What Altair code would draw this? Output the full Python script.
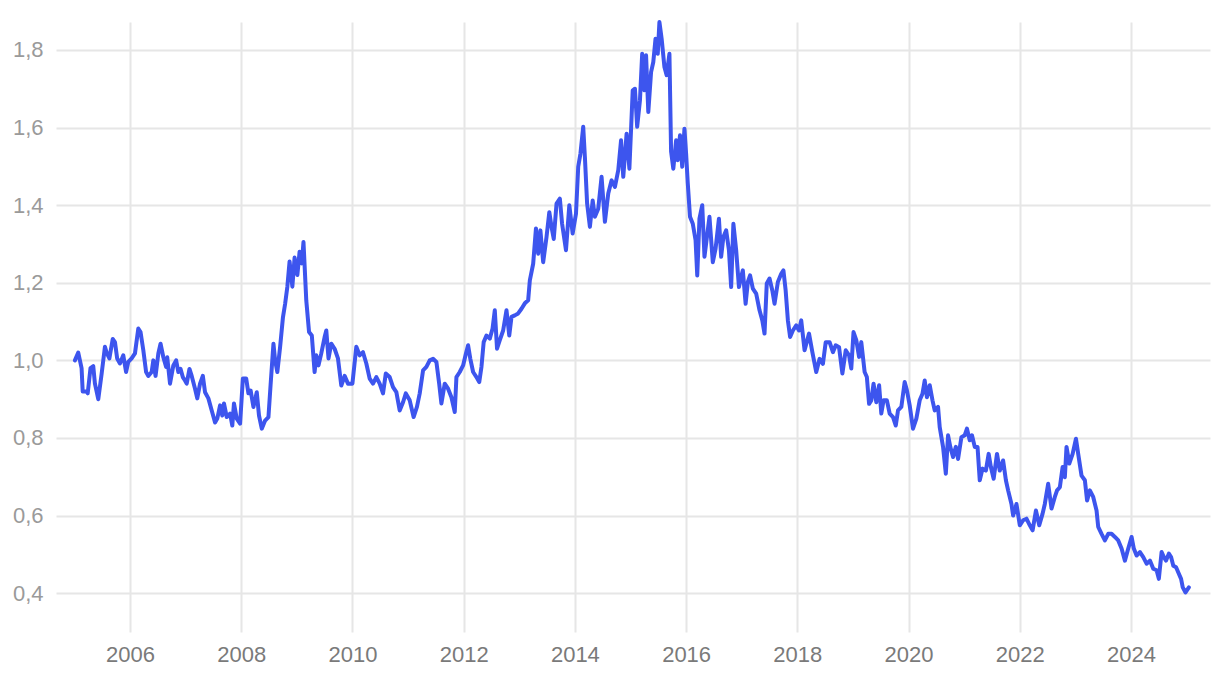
import altair as alt
import pandas as pd

years = [
    2005.01, 2005.07, 2005.13, 2005.15, 2005.22, 2005.24, 2005.29, 2005.34, 2005.37, 2005.43,
    2005.49, 2005.52, 2005.55, 2005.58, 2005.63, 2005.69, 2005.73, 2005.77, 2005.82, 2005.88,
    2005.93, 2005.97, 2006.03, 2006.09, 2006.15, 2006.19, 2006.24, 2006.29, 2006.33, 2006.39,
    2006.42, 2006.46, 2006.51, 2006.55, 2006.60, 2006.65, 2006.67, 2006.72, 2006.78, 2006.83,
    2006.87, 2006.91, 2006.95, 2006.99, 2007.02, 2007.07, 2007.11, 2007.17, 2007.21, 2007.26,
    2007.31, 2007.35, 2007.41, 2007.47, 2007.53, 2007.57, 2007.62, 2007.66, 2007.69, 2007.74,
    2007.80, 2007.84, 2007.87, 2007.92, 2007.98, 2008.03, 2008.09, 2008.13, 2008.17, 2008.22,
    2008.28, 2008.32, 2008.37, 2008.43, 2008.49, 2008.53, 2008.58, 2008.61, 2008.65, 2008.70,
    2008.75, 2008.79, 2008.83, 2008.87, 2008.92, 2008.96, 2009.01, 2009.05, 2009.09, 2009.12,
    2009.17, 2009.22, 2009.27, 2009.32, 2009.35, 2009.39, 2009.44, 2009.50, 2009.53, 2009.57,
    2009.62, 2009.68, 2009.74, 2009.80, 2009.86, 2009.92, 2010.00, 2010.07, 2010.13, 2010.19,
    2010.25, 2010.31, 2010.37, 2010.43, 2010.49, 2010.55, 2010.60, 2010.67, 2010.73, 2010.79,
    2010.85, 2010.91, 2010.96, 2011.03, 2011.10, 2011.16, 2011.21, 2011.27, 2011.33, 2011.39,
    2011.45, 2011.51, 2011.56, 2011.60, 2011.66, 2011.72, 2011.78, 2011.84, 2011.87, 2011.93,
    2011.99, 2012.04, 2012.08, 2012.12, 2012.17, 2012.23, 2012.28, 2012.32, 2012.36, 2012.41,
    2012.47, 2012.52, 2012.56, 2012.60, 2012.65, 2012.71, 2012.77, 2012.82, 2012.86, 2012.92,
    2012.98, 2013.04, 2013.10, 2013.16, 2013.19, 2013.25, 2013.30, 2013.34, 2013.38, 2013.43,
    2013.49, 2013.54, 2013.58, 2013.62, 2013.67, 2013.73, 2013.77, 2013.84, 2013.90, 2013.96,
    2014.02, 2014.06, 2014.10, 2014.15, 2014.18, 2014.22, 2014.27, 2014.32, 2014.36, 2014.42,
    2014.48, 2014.54, 2014.60, 2014.66, 2014.72, 2014.78, 2014.83, 2014.87, 2014.93, 2014.98,
    2015.04, 2015.08, 2015.12, 2015.17, 2015.21, 2015.25, 2015.28, 2015.32, 2015.37, 2015.41,
    2015.45, 2015.49, 2015.52, 2015.56, 2015.61, 2015.65, 2015.70, 2015.73, 2015.77, 2015.82,
    2015.85, 2015.89, 2015.93, 2015.97, 2016.00, 2016.03, 2016.07, 2016.12, 2016.17, 2016.20,
    2016.24, 2016.29, 2016.33, 2016.42, 2016.48, 2016.53, 2016.59, 2016.63, 2016.67, 2016.72,
    2016.77, 2016.81, 2016.85, 2016.90, 2016.95, 2016.99, 2017.02, 2017.07, 2017.11, 2017.15,
    2017.20, 2017.26, 2017.32, 2017.37, 2017.41, 2017.45, 2017.50, 2017.55, 2017.59, 2017.65,
    2017.71, 2017.75, 2017.79, 2017.83, 2017.87, 2017.92, 2017.98, 2018.03, 2018.07, 2018.13,
    2018.21, 2018.27, 2018.34, 2018.40, 2018.46, 2018.51, 2018.58, 2018.64, 2018.69, 2018.75,
    2018.81, 2018.87, 2018.93, 2018.97, 2019.01, 2019.06, 2019.11, 2019.15, 2019.21, 2019.25,
    2019.29, 2019.33, 2019.37, 2019.42, 2019.47, 2019.51, 2019.55, 2019.61, 2019.66, 2019.72,
    2019.77, 2019.81, 2019.87, 2019.93, 2019.97, 2020.02, 2020.08, 2020.14, 2020.20, 2020.25,
    2020.29, 2020.33, 2020.38, 2020.43, 2020.47, 2020.53, 2020.56, 2020.62, 2020.67, 2020.71,
    2020.75, 2020.80, 2020.85, 2020.89, 2020.95, 2021.01, 2021.05, 2021.10, 2021.14, 2021.19,
    2021.24, 2021.28, 2021.33, 2021.39, 2021.44, 2021.48, 2021.53, 2021.59, 2021.64, 2021.70,
    2021.75, 2021.79, 2021.85, 2021.88, 2021.94, 2022.00, 2022.06, 2022.12, 2022.18, 2022.23,
    2022.29, 2022.35, 2022.41, 2022.45, 2022.51, 2022.57, 2022.63, 2022.67, 2022.72, 2022.77,
    2022.81, 2022.84, 2022.89, 2022.95, 2023.01, 2023.05, 2023.11, 2023.17, 2023.21, 2023.26,
    2023.32, 2023.38, 2023.41, 2023.47, 2023.53, 2023.59, 2023.65, 2023.71, 2023.77, 2023.83,
    2023.89, 2023.95, 2024.01, 2024.05, 2024.10, 2024.16, 2024.22, 2024.28, 2024.34, 2024.40,
    2024.46, 2024.50, 2024.55, 2024.59, 2024.63, 2024.68, 2024.72, 2024.76, 2024.81, 2024.86,
    2024.90, 2024.93, 2024.98, 2025.04,
]

values = [
    1.000, 1.020, 0.980, 0.920, 0.920, 0.915, 0.980, 0.985, 0.940, 0.900,
    0.965, 1.000, 1.035, 1.020, 1.005, 1.055, 1.047, 1.005, 0.992, 1.013,
    0.970, 0.996, 1.005, 1.018, 1.082, 1.073, 1.026, 0.970, 0.960, 0.970,
    1.000, 0.960, 1.018, 1.043, 1.008, 0.983, 1.008, 0.940, 0.987, 1.000,
    0.970, 0.978, 0.957, 0.948, 0.940, 0.978, 0.960, 0.927, 0.902, 0.940,
    0.960, 0.918, 0.902, 0.871, 0.840, 0.850, 0.884, 0.858, 0.889, 0.854,
    0.863, 0.832, 0.889, 0.850, 0.837, 0.953, 0.953, 0.915, 0.922, 0.880,
    0.918, 0.858, 0.824, 0.845, 0.854, 0.940, 1.043, 1.000, 0.970, 1.035,
    1.110, 1.146, 1.190, 1.255, 1.190, 1.265, 1.220, 1.280, 1.250, 1.305,
    1.155, 1.073, 1.064, 0.970, 1.013, 0.987, 1.018, 1.060, 1.077, 1.005,
    1.043, 1.030, 1.005, 0.935, 0.960, 0.940, 0.940, 1.035, 1.013, 1.021,
    0.992, 0.953, 0.940, 0.957, 0.940, 0.915, 0.966, 0.957, 0.931, 0.918,
    0.871, 0.892, 0.915, 0.897, 0.854, 0.880, 0.915, 0.974, 0.983, 1.000,
    1.004, 0.996, 0.940, 0.889, 0.940, 0.927, 0.905, 0.867, 0.957, 0.970,
    0.987, 1.017, 1.039, 1.004, 0.970, 0.957, 0.944, 0.983, 1.047, 1.064,
    1.056, 1.082, 1.129, 1.030, 1.052, 1.077, 1.129, 1.064, 1.112, 1.116,
    1.121, 1.133, 1.147, 1.155, 1.206, 1.249, 1.340, 1.275, 1.335, 1.253,
    1.318, 1.382, 1.344, 1.313, 1.404, 1.417, 1.352, 1.284, 1.400, 1.327,
    1.378, 1.499, 1.533, 1.602, 1.524, 1.404, 1.344, 1.412, 1.370, 1.391,
    1.473, 1.357, 1.430, 1.464, 1.447, 1.490, 1.567, 1.473, 1.584, 1.494,
    1.696, 1.700, 1.602, 1.670, 1.790, 1.696, 1.786, 1.640, 1.743, 1.769,
    1.829, 1.790, 1.872, 1.829, 1.756, 1.735, 1.790, 1.538, 1.494, 1.567,
    1.516, 1.580, 1.499, 1.597, 1.533, 1.456, 1.370, 1.352, 1.310, 1.219,
    1.365, 1.400, 1.267, 1.370, 1.253, 1.288, 1.365, 1.267, 1.318, 1.335,
    1.284, 1.189, 1.352, 1.284, 1.189, 1.215, 1.232, 1.146, 1.202, 1.219,
    1.185, 1.172, 1.129, 1.103, 1.069, 1.198, 1.211, 1.180, 1.146, 1.202,
    1.223, 1.232, 1.180, 1.103, 1.060, 1.077, 1.090, 1.077, 1.103, 1.026,
    1.069, 1.021, 0.970, 1.004, 0.991, 1.047, 1.047, 1.021, 1.039, 1.034,
    0.966, 1.026, 1.013, 0.979, 1.073, 1.052, 1.009, 1.047, 0.970, 0.957,
    0.888, 0.897, 0.940, 0.892, 0.936, 0.863, 0.897, 0.897, 0.863, 0.854,
    0.832, 0.871, 0.880, 0.944, 0.923, 0.884, 0.824, 0.850, 0.897, 0.914,
    0.948, 0.905, 0.936, 0.897, 0.871, 0.880, 0.828, 0.777, 0.708, 0.807,
    0.777, 0.751, 0.777, 0.746, 0.802, 0.807, 0.824, 0.794, 0.807, 0.777,
    0.777, 0.691, 0.721, 0.716, 0.759, 0.725, 0.695, 0.759, 0.716, 0.742,
    0.691, 0.665, 0.630, 0.600, 0.630, 0.575, 0.588, 0.592, 0.575, 0.562,
    0.613, 0.575, 0.605, 0.630, 0.682, 0.618, 0.648, 0.665, 0.673, 0.725,
    0.699, 0.777, 0.734, 0.759, 0.798, 0.759, 0.703, 0.691, 0.639, 0.665,
    0.648, 0.613, 0.571, 0.553, 0.536, 0.553, 0.553, 0.545, 0.536, 0.515,
    0.484, 0.515, 0.545, 0.515, 0.497, 0.506, 0.493, 0.476, 0.484, 0.463,
    0.459, 0.437, 0.506, 0.493, 0.484, 0.502, 0.493, 0.471, 0.467, 0.450,
    0.437, 0.415, 0.402, 0.415,
]

tick_years = [2006, 2008, 2010, 2012, 2014, 2016, 2018, 2020, 2022, 2024]
y_ticks = [0.4, 0.6, 0.8, 1.0, 1.2, 1.4, 1.6, 1.8]

df = pd.DataFrame({"year": years, "value": values})

chart = (
    alt.Chart(df)
    .mark_line(color="#3D55EE", strokeWidth=4, strokeJoin="round", strokeCap="round")
    .encode(
        x=alt.X(
            "year:Q",
            scale=alt.Scale(domain=[2004.67, 2025.42], nice=False, zero=False),
            axis=alt.Axis(
                values=tick_years,
                format="d",
                title=None,
                domain=False,
                ticks=False,
                labelPadding=12,
                labelFontSize=22,
                labelColor="#7a7a7a",
                labelFont="Liberation Sans",
                gridColor="#e6e6e6",
                gridWidth=2,
            ),
        ),
        y=alt.Y(
            "value:Q",
            scale=alt.Scale(domain=[0.3, 1.872], nice=False, zero=False),
            axis=alt.Axis(
                values=y_ticks,
                labelExpr="replace(format(datum.value, '.1f'), '.', ',')",
                title=None,
                domain=False,
                ticks=False,
                labelPadding=13,
                labelFontSize=22,
                labelColor="#9a9a9a",
                labelFont="Liberation Sans",
                gridColor="#e6e6e6",
                gridWidth=2,
            ),
        ),
    )
    .properties(
        width=1154,
        height=610,
        autosize=alt.AutoSizeParams(type="none"),
        padding={"left": 48, "top": 14, "right": 2, "bottom": 40},
    )
    .configure_view(stroke=None)
)

chart.save("out.html", embed_options={"renderer": "svg", "actions": False})
